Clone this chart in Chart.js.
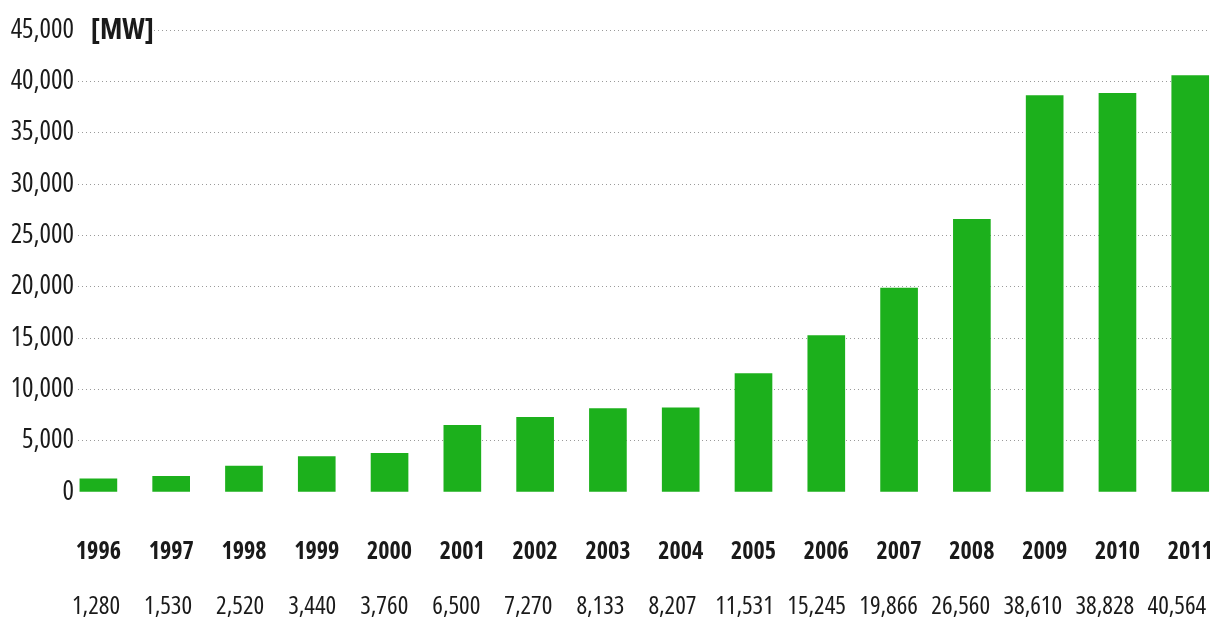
<!DOCTYPE html>
<html>
<head>
<meta charset="utf-8">
<script src="https://cdn.jsdelivr.net/npm/chart.js@4/dist/chart.umd.min.js"></script>
<style>
  html, body { margin: 0; padding: 0; background: #fff; overflow: hidden; }
  canvas { display: block; }
</style>
</head>
<body>
<canvas id="capacityChart" width="1223" height="640"></canvas>
<script>
// Installed capacity per year, in MW
const years = ['1996', '1997', '1998', '1999', '2000', '2001', '2002', '2003',
               '2004', '2005', '2006', '2007', '2008', '2009', '2010', '2011'];
const capacityMW = [1280, 1530, 2520, 3440, 3760, 6500, 7270, 8133,
                    8207, 11531, 15245, 19866, 26560, 38610, 38828, 40564];
const yTicks = [0, 5000, 10000, 15000, 20000, 25000, 30000, 35000, 40000, 45000];

// condensed cut of Open Sans (picked through the font shorthand)
const FONT = '"Open Sans", "Roboto Condensed", sans-serif';
const TEXT = '#1a1a1a';
const BAR_GREEN = '#1cb01c';

// one tick per year, placed on integer positions of the x scale
function yearTicks(axis) {
  axis.ticks = years.map((y, i) => ({ value: i }));
}

// "[MW]" unit label sitting on the top grid line
const unitLabel = {
  id: 'unitLabel',
  beforeDatasetsDraw(chart) {
    const { ctx, chartArea, scales } = chart;
    const y = scales.y.getPixelForValue(yTicks[yTicks.length - 1]);
    ctx.save();
    ctx.fillStyle = '#fff';
    ctx.fillRect(chartArea.left, y - 4, 153 - chartArea.left, 8);
    ctx.font = 'bold condensed 29px ' + FONT;
    ctx.fillStyle = TEXT;
    ctx.textBaseline = 'middle';
    ctx.fillText('[MW]', 91, y + 1);
    ctx.restore();
  }
};

new Chart(document.getElementById('capacityChart'), {
  type: 'bar',
  data: {
    datasets: [{
      data: capacityMW.map((v, i) => ({ x: i, y: v })),
      backgroundColor: BAR_GREEN,
      borderWidth: 0,
      barThickness: 37
    }]
  },
  options: {
    responsive: false,
    animation: false,
    layout: { padding: { top: 30, bottom: 20, left: 0, right: 0 } },
    plugins: {
      legend: { display: false },
      tooltip: { enabled: false }
    },
    scales: {
      x: {
        type: 'linear',
        position: 'bottom',
        weight: 0,
        offset: false,
        min: -0.28,
        max: 15.45,
        afterBuildTicks: yearTicks,
        afterFit: (axis) => { axis.height = 75; },
        grid: { display: false, drawTicks: true, tickLength: 46 },
        border: { display: false },
        ticks: {
          autoSkip: false,
          maxRotation: 0,
          padding: 0,
          color: TEXT,
          font: { family: FONT, size: 24, weight: 'bold condensed' },
          callback: (v) => years[v]
        }
      },
      // second row: the value of each year, set a little tighter than the bars
      values: {
        type: 'linear',
        position: 'bottom',
        weight: 1,
        offset: false,
        min: -0.25,
        max: 15.64,
        afterBuildTicks: yearTicks,
        afterFit: (axis) => { axis.height = 53; },
        grid: { display: false, drawTicks: true, tickLength: 25 },
        border: { display: false },
        ticks: {
          autoSkip: false,
          maxRotation: 0,
          padding: 0,
          color: TEXT,
          font: { family: FONT, size: 25, weight: 'condensed' },
          callback: (v) => capacityMW[v].toLocaleString('en-US')
        }
      },
      y: {
        min: 0,
        max: 45000,
        afterBuildTicks: (axis) => { axis.ticks = yTicks.map(v => ({ value: v })); },
        afterFit: (axis) => { axis.width = 78; },
        grid: {
          drawTicks: false,
          lineWidth: 1,
          color: (ctx) => ctx.tick && ctx.tick.value === 0 ? 'rgba(0,0,0,0)' : '#9a9a9a'
        },
        border: { display: false, dash: [1, 3] },
        ticks: {
          padding: 4,
          color: TEXT,
          font: { family: FONT, size: 27, weight: 'condensed' },
          callback: (v) => v.toLocaleString('en-US')
        }
      }
    }
  },
  plugins: [unitLabel]
});
</script>
</body>
</html>
